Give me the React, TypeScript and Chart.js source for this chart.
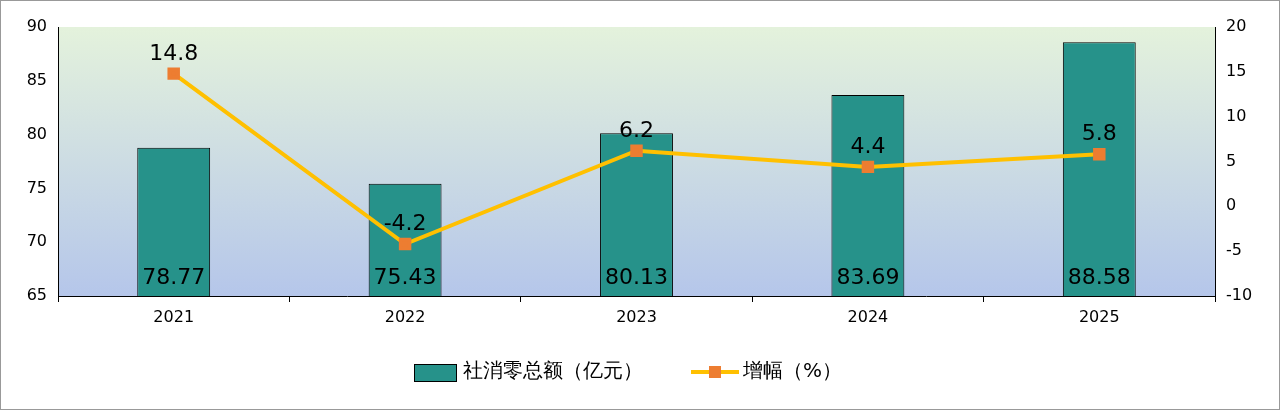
import React, { useEffect, useRef } from "react";
import { Chart, registerables } from "chart.js";
Chart.register(...registerables);

const categories = ["2021", "2022", "2023", "2024", "2025"];
const salesValues = [78.77, 75.43, 80.13, 83.69, 88.58];
const growthValues = [14.8, -4.2, 6.2, 4.4, 5.8];
const salesLabel = "社消零总额（亿元）";
const growthLabel = "增幅（%）";

const FONT = "'DejaVu Sans', sans-serif";

const bgPlugin = {
  id: "bg",
  beforeDraw(chart: any) {
    const { ctx, chartArea: a } = chart;
    const g = ctx.createLinearGradient(0, a.top, 0, a.bottom);
    g.addColorStop(0, "#e4f2dc");
    g.addColorStop(1, "#b5c6ea");
    ctx.save();
    ctx.fillStyle = g;
    ctx.fillRect(a.left, a.top, a.right - a.left, a.bottom - a.top);
    ctx.restore();
  },
};

const labelPlugin = {
  id: "labels",
  afterDatasetsDraw(chart: any) {
    const { ctx, chartArea: a } = chart;
    ctx.save();
    ctx.font = `22px ${FONT}`;
    ctx.fillStyle = "#000";
    ctx.textAlign = "center";
    chart.getDatasetMeta(0).data.forEach((el: any, i: number) => {
      ctx.textBaseline = "alphabetic";
      ctx.fillText(salesValues[i].toFixed(2), el.x, a.bottom - 12);
    });
    chart.getDatasetMeta(1).data.forEach((el: any, i: number) => {
      ctx.textBaseline = "alphabetic";
      ctx.fillText(String(growthValues[i]), el.x, el.y - 14);
    });
    // legend
    const y = 371;
    ctx.font = `20px ${FONT}`;
    ctx.textAlign = "left";
    ctx.textBaseline = "middle";
    ctx.fillStyle = "#26928a";
    ctx.strokeStyle = "#000";
    ctx.lineWidth = 1;
    ctx.fillRect(413, y - 8, 42, 17);
    ctx.strokeRect(413.5, y - 7.5, 42, 17);
    ctx.fillStyle = "#000";
    ctx.fillText(salesLabel, 462, y);
    ctx.strokeStyle = "#ffc000";
    ctx.lineWidth = 4;
    ctx.beginPath();
    ctx.moveTo(690, y);
    ctx.lineTo(738, y);
    ctx.stroke();
    ctx.fillStyle = "#ed7d31";
    ctx.fillRect(708, y - 6, 12, 12);
    ctx.fillStyle = "#000";
    ctx.fillText(growthLabel, 742, y);
    ctx.restore();
  },
};

export default function App() {
  const ref = useRef<HTMLCanvasElement>(null);
  useEffect(() => {
    document.body.style.margin = "0";
    const chart = new Chart(ref.current!, {
      type: "bar",
      data: {
        labels: categories,
        datasets: [
          {
            type: "bar",
            label: salesLabel,
            data: salesValues,
            backgroundColor: "#26928a",
            borderColor: "#000",
            borderWidth: 1,
            barPercentage: 0.63,
            categoryPercentage: 0.5,
            yAxisID: "y",
            order: 2,
          } as any,
          {
            type: "line",
            label: growthLabel,
            data: growthValues,
            borderColor: "#ffc000",
            borderWidth: 4,
            pointStyle: "rect",
            pointRadius: 6,
            pointBackgroundColor: "#ed7d31",
            pointBorderColor: "#ed7d31",
            yAxisID: "y1",
            order: 1,
          } as any,
        ],
      },
      options: {
        animation: false,
        responsive: false,
        layout: { padding: { top: 26 } },
        plugins: { legend: { display: false }, tooltip: { enabled: false } },
        scales: {
          x: {
            grid: { display: true, drawOnChartArea: false, tickLength: 6, color: "#000", offset: true },
            border: { color: "#000" },
            ticks: { font: { family: FONT, size: 16 }, color: "#000", padding: 6 },
            afterFit(s: any) { s.height = 113; },
          },
          y: {
            position: "left",
            min: 65, max: 90,
            ticks: { stepSize: 5, font: { family: FONT, size: 16 }, color: "#000" },
            grid: { display: false },
            border: { color: "#000" },
            afterFit(s: any) { s.width = 57; },
          },
          y1: {
            position: "right",
            min: -10, max: 20,
            ticks: { stepSize: 5, font: { family: FONT, size: 16 }, color: "#000" },
            grid: { display: false },
            border: { color: "#000" },
            afterFit(s: any) { s.width = 64; },
          },
        },
      },
      plugins: [bgPlugin, labelPlugin],
    });
    return () => chart.destroy();
  }, []);
  return (
    <div style={{ width: 1280, height: 410, boxSizing: "border-box", border: "1px solid #999", background: "#fff" }}>
      <canvas ref={ref} width={1278} height={408} style={{ display: "block" }} />
    </div>
  );
}
